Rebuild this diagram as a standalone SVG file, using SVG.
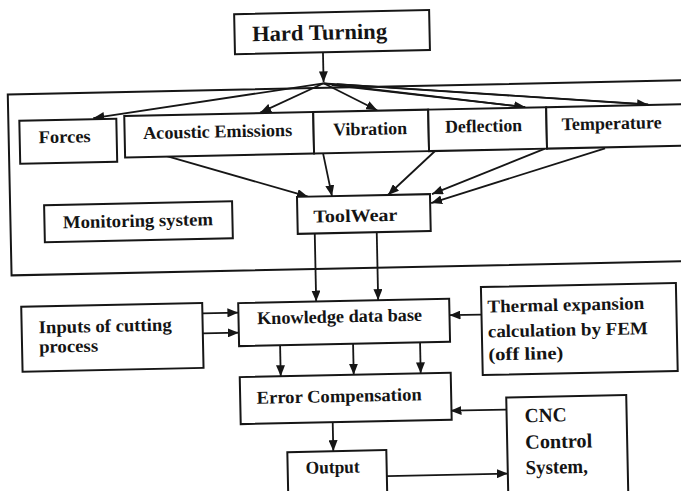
<svg xmlns="http://www.w3.org/2000/svg" width="681" height="491" viewBox="0 0 681 491">
<style>
.box{fill:#fff;stroke:#161616;stroke-width:2}
.frame{fill:none;stroke:#161616;stroke-width:2}
.t{font-family:"Liberation Serif","Times New Roman",serif;font-weight:bold;font-size:18px;fill:#141414}
.m{text-anchor:middle}
.c{fill:none;stroke:#161616;stroke-width:1.8;marker-end:url(#ah)}
.p{fill:none;stroke:#161616;stroke-width:1.6}
</style>
<defs>
<marker id="ah" markerUnits="userSpaceOnUse" markerWidth="11" markerHeight="9" refX="11" refY="4.5" orient="auto">
<path d="M0,0 L11,4.5 L0,9 z" fill="#161616"/>
</marker>
</defs>
<rect width="681" height="491" fill="#fff"/>
<g transform="rotate(-1.2 340 245)">
<rect id="monitoring-frame" class="frame" x="11" y="87.5" width="700" height="181"/>

<g id="connectors">
<path class="c" d="M327,52 L327,82"/>
<path class="c" d="M327,83 L96,113"/>
<path class="c" d="M327,83 L263,111"/>
<path class="c" d="M327,83 L380,111"/>
<path class="p" d="M335,85 L528,111"/>
<path class="c" d="M327,83 L528,111"/>
<path class="p" d="M340,84 L651,111"/>
<path class="c" d="M327,83 L651,111"/>
<path class="c" d="M167,152 L309,196"/>
<path class="c" d="M325,153 L333,196"/>
<path class="c" d="M437,153 L389,196"/>
<path class="c" d="M547,153 L433,196"/>
<path class="c" d="M607,154 L432,205"/>
<path class="c" d="M315,233 L315,301"/>
<path class="c" d="M377,233 L377,301"/>
<path class="c" d="M201,310.5 L237,310.5"/>
<path class="c" d="M201,330.5 L237,330.5"/>
<path class="c" d="M480,317.5 L448,317.5"/>
<path class="c" d="M278,344 L278,375"/>
<path class="c" d="M351,344 L351,375"/>
<path class="c" d="M418,344 L418,375"/>
<path class="c" d="M503,413 L447,413"/>
<path class="c" d="M329,422 L329,451"/>
<path class="c" d="M382,477 L503,477"/>
</g>

<g id="hard-turning">
<rect class="box" x="239" y="12" width="195" height="40"/>
<text class="t m" x="324" y="39.5" style="font-size:22px" textLength="135" lengthAdjust="spacingAndGlyphs">Hard Turning</text>
</g>
<g id="forces">
<rect class="box" x="22" y="114" width="97" height="43"/>
<text class="t m" x="67" y="137" textLength="52" lengthAdjust="spacingAndGlyphs">Forces</text>
</g>
<g id="acoustic-emissions">
<rect class="box" x="127" y="111.5" width="189" height="41.5"/>
<text class="t m" x="220" y="135" textLength="149" lengthAdjust="spacingAndGlyphs">Acoustic Emissions</text>
</g>
<g id="vibration">
<rect class="box" x="316" y="111.5" width="115" height="41.5"/>
<text class="t m" x="372.5" y="135.5" textLength="74" lengthAdjust="spacingAndGlyphs">Vibration</text>
</g>
<g id="deflection">
<rect class="box" x="431" y="111.5" width="118" height="41.5"/>
<text class="t m" x="486" y="135" textLength="77" lengthAdjust="spacingAndGlyphs">Deflection</text>
</g>
<g id="temperature">
<rect class="box" x="549" y="111.5" width="160" height="41.5"/>
<text class="t m" x="614" y="135" textLength="100" lengthAdjust="spacingAndGlyphs">Temperature</text>
</g>
<g id="monitoring-system">
<rect class="box" x="45" y="199" width="188" height="37"/>
<text class="t m" x="138.5" y="222.5" textLength="150" lengthAdjust="spacingAndGlyphs">Monitoring system</text>
</g>
<g id="tool-wear">
<rect class="box" x="298" y="196" width="133" height="37"/>
<text class="t m" x="356" y="222" textLength="84" lengthAdjust="spacingAndGlyphs">ToolWear</text>
</g>
<g id="inputs">
<rect class="box" x="20" y="300" width="181" height="65"/>
<text class="t" x="37" y="327" textLength="133" lengthAdjust="spacingAndGlyphs">Inputs of cutting</text>
<text class="t" x="37" y="346.5" textLength="59" lengthAdjust="spacingAndGlyphs">process</text>
</g>
<g id="knowledge-data-base">
<rect class="box" x="237" y="301" width="211" height="43"/>
<text class="t m" x="338" y="322.5" textLength="165" lengthAdjust="spacingAndGlyphs">Knowledge data base</text>
</g>
<g id="thermal-expansion">
<rect class="box" x="480" y="290" width="195" height="88"/>
<text class="t" x="486" y="315.5" textLength="157" lengthAdjust="spacingAndGlyphs">Thermal expansion</text>
<text class="t" x="486" y="340.5" textLength="160" lengthAdjust="spacingAndGlyphs">calculation by FEM</text>
<text class="t" x="486" y="363.5" textLength="75" lengthAdjust="spacingAndGlyphs">(off line)</text>
</g>
<g id="error-compensation">
<rect class="box" x="237" y="375" width="211" height="47"/>
<text class="t m" x="336" y="402" textLength="165" lengthAdjust="spacingAndGlyphs">Error Compensation</text>
</g>
<g id="cnc-control-system">
<rect class="box" x="503" y="401" width="120" height="110"/>
<text class="t" x="521" y="426" style="font-size:20px" textLength="42" lengthAdjust="spacingAndGlyphs">CNC</text>
<text class="t" x="521" y="452.5" style="font-size:20px" textLength="67" lengthAdjust="spacingAndGlyphs">Control</text>
<text class="t" x="521" y="478" style="font-size:20px" textLength="62" lengthAdjust="spacingAndGlyphs">System,</text>
</g>
<g id="output">
<rect class="box" x="283" y="451" width="99" height="60"/>
<text class="t m" x="328" y="473" textLength="54" lengthAdjust="spacingAndGlyphs">Output</text>
</g>
</g>
</svg>
